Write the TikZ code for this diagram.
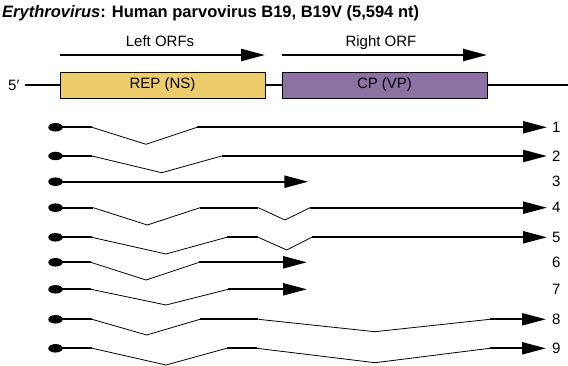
\documentclass[tikz,border=0pt]{standalone}
\usepackage{fontspec}
\setmainfont{Liberation Sans}
\usetikzlibrary{arrows.meta,shapes.geometric}
\definecolor{repyellow}{HTML}{EDCC6B}
\definecolor{cppurple}{HTML}{8C72A3}
\begin{document}
\begin{tikzpicture}[x=1pt,y=-1pt,
  thickseg/.style={line width=2.2pt},
  thinseg/.style={line width=0.8pt},
  tipseg/.style={line width=2.2pt,-{Triangle[length=24pt,width=12pt]}},
  orfarrow/.style={line width=2.2pt,-{Triangle[length=24pt,width=12pt]}},
  genebox/.style={draw=black,line width=0.9pt,minimum height=26pt,inner sep=0pt},
  capdot/.style={ellipse,fill=black,minimum width=14.5pt,minimum height=8.5pt,inner sep=0pt},
  numlab/.style={anchor=west,inner sep=0pt,font=\fontsize{15}{17}\selectfont},
  lab/.style={font=\fontsize{15}{17}\selectfont,inner sep=0pt}
]
\useasboundingbox (0,0) rectangle (568,366);
% title
\node[anchor=base west,inner sep=0pt,font=\fontsize{16.5}{19}\selectfont\bfseries] (title) at (2,17.5) {\textit{Erythrovirus}: Human parvovirus B19, B19V (5,594 nt)};
% ORF arrows
\coordinate (la0) at (60,55); \coordinate (la1) at (265,55);
\coordinate (ra0) at (282,55); \coordinate (ra1) at (487,55);
\draw[orfarrow] (la0) -- (la1);
\draw[orfarrow] (ra0) -- (ra1);
\node[lab,anchor=base] (leftlab) at (160,46.5) {Left ORFs};
\node[lab,anchor=base] (rightlab) at (381,46.5) {Right ORF};
% genome
\node[lab,anchor=base west] (five) at (8,91) {5′};
\coordinate (gend) at (568,85);
\node[genebox,fill=repyellow,minimum width=205pt] (rep) at (162.5,85) {};
\node[genebox,fill=cppurple,minimum width=205pt] (cp) at (384.5,85) {};
\node[lab] at (rep.center) {REP (NS)};
\node[lab] at (cp.center) {CP (VP)};
\draw[line width=1.2pt] (25,85) -- (rep.west);
\draw[line width=1.2pt] (rep.east) -- (cp.west);
\draw[line width=1.2pt] (cp.east) -- (gend);
% cap dots
\foreach \i/\y in {1/127.3,2/156,3/181.7,4/207.7,5/237.3,6/262.3,7/289.3,8/319.3,9/348.3}{
  \node[capdot] (d\i) at (55.5,\y) {};
}
% labels
\foreach \i/\y in {1/127.3,2/156,3/181.7,4/207.7,5/237.3,6/262.3,7/289.3,8/319.3,9/348.3}{
  \node[numlab] (n\i) at (552,\y) {\i};
}
% row 1
\draw[thickseg] (d1.center) -- (92,127.3);
\draw[thinseg] (92,127.3) -- (146,144.3) -- (197,127.3);
\draw[tipseg] (197,127.3) -- (547,127.3);
% row 2
\draw[thickseg] (d2.center) -- (92,156);
\draw[thinseg] (92,156) -- (161.7,172.7) -- (221.7,156);
\draw[tipseg] (221.7,156) -- (547,156);
% row 3
\draw[tipseg] (d3.center) -- (308.3,181.7);
% row 4
\draw[thickseg] (d4.center) -- (93.3,207.7);
\draw[thinseg] (93.3,207.7) -- (147.3,225) -- (200,207.7);
\draw[thickseg] (200,207.7) -- (258.3,207.7);
\draw[thinseg] (258.3,207.7) -- (285,220) -- (310,207.7);
\draw[tipseg] (310,207.7) -- (547,207.7);
% row 5
\draw[thickseg] (d5.center) -- (91.7,237.3);
\draw[thinseg] (91.7,237.3) -- (166,254) -- (226.7,237.3);
\draw[thickseg] (226.7,237.3) -- (258.3,237.3);
\draw[thinseg] (258.3,237.3) -- (286.7,250) -- (311.7,237.3);
\draw[tipseg] (311.7,237.3) -- (547,237.3);
% row 6
\draw[thickseg] (d6.center) -- (90.7,262.3);
\draw[thinseg] (90.7,262.3) -- (146,280) -- (199.3,262.3);
\draw[tipseg] (199.3,262.3) -- (307,262.3);
% row 7
\draw[thickseg] (d7.center) -- (91,289.3);
\draw[thinseg] (91,289.3) -- (166,305) -- (228.3,289.3);
\draw[tipseg] (228.3,289.3) -- (307,289.3);
% row 8
\draw[thickseg] (d8.center) -- (92,319.3);
\draw[thinseg] (92,319.3) -- (146.7,335) -- (200,319.3);
\draw[thickseg] (200,319.3) -- (258.3,319.3);
\draw[thinseg] (258.3,319.3) -- (375,331.7) -- (490,319.3);
\draw[tipseg] (490,319.3) -- (546,319.3);
% row 9
\draw[thickseg] (d9.center) -- (92.3,348.3);
\draw[thinseg] (92.3,348.3) -- (166,365) -- (226.7,348.3);
\draw[thickseg] (226.7,348.3) -- (256.7,348.3);
\draw[thinseg] (256.7,348.3) -- (375,362.7) -- (490,348.3);
\draw[tipseg] (490,348.3) -- (546,348.3);
\end{tikzpicture}
\end{document}
